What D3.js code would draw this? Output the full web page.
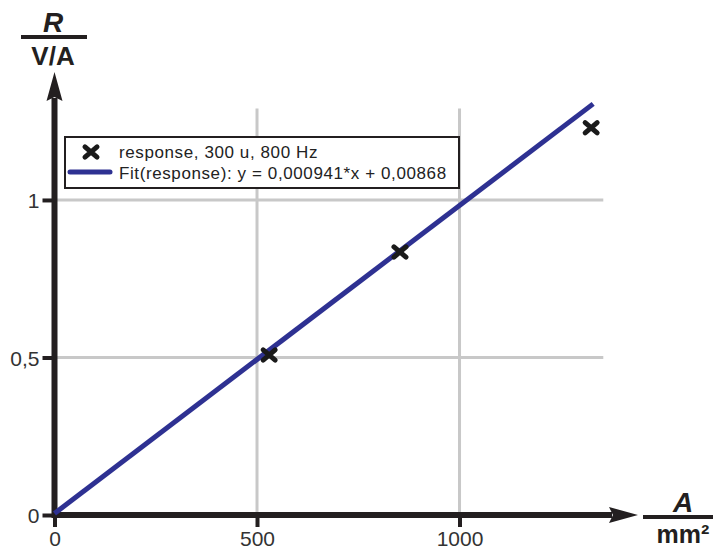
<!DOCTYPE html>
<html lang="en">
<head>
  <meta charset="UTF-8">
  <title>R over A</title>
  <script src="https://d3js.org/d3.v7.min.js"></script>
  <style>
    body { margin: 0; background: #fff; }
    svg { display: block; }
    .tick-label {
      font-family: "Liberation Sans Narrow", "Arial Narrow", "Liberation Sans", sans-serif;
      font-stretch: condensed;
      font-size: 21px;
      fill: #333;
    }
    .unit {
      font-family: "Liberation Sans", Arial, sans-serif;
      font-weight: bold;
      fill: #231f20;
    }
    .legend-text {
      font-family: "Liberation Sans", Arial, sans-serif;
      font-size: 17px;
      letter-spacing: 0.6px;
      fill: #222;
    }
  </style>
</head>
<body>
  <script>
    // Messwerte
    const pointX = [530, 853, 1325];
    const pointY = [0.508, 0.835, 1.229];

    // Ausgleichsgerade (so wie gezeichnet)
    const fitX = [0, 1330];
    const fitY = [0.005, 1.305];

    const xTicks = [0, 500, 1000];
    const yTicks = [0, 0.5, 1];
    const xGrid = [500, 1000];
    const yGrid = [0.5, 1];

    const legendLabels = ['response, 300 u, 800 Hz', 'Fit(response): y = 0,000941*x + 0,00868'];

    const width = 713, height = 550;
    const axisColor = '#231f20';
    const lineColor = '#2e3192';

    const x = d3.scaleLinear().domain([0, 1355]).range([54.5, 603.3]);
    const y = d3.scaleLinear().domain([0, 1.29]).range([515, 108.6]);

    const svg = d3.select('body').append('svg')
      .attr('width', width)
      .attr('height', height);

    // Gitter
    svg.append('g').selectAll('line').data(xGrid).join('line')
      .attr('x1', d => x(d)).attr('x2', d => x(d))
      .attr('y1', y(0)).attr('y2', y.range()[1])
      .attr('stroke', '#c8c8c8').attr('stroke-width', 3);

    svg.append('g').selectAll('line').data(yGrid).join('line')
      .attr('x1', x(0)).attr('x2', x.range()[1])
      .attr('y1', d => y(d)).attr('y2', d => y(d))
      .attr('stroke', '#c8c8c8').attr('stroke-width', 3);

    // Achsen mit d3-axis (nur Ticks + Beschriftung)
    const fmt = d => d3.format('~g')(d).replace('.', ',');

    const xAxis = svg.append('g')
      .attr('transform', `translate(0,${y(0)})`)
      .call(d3.axisBottom(x).tickValues(xTicks).tickFormat(fmt).tickSize(12).tickPadding(4));
    xAxis.select('.domain').remove();
    xAxis.selectAll('.tick line').attr('stroke', axisColor).attr('stroke-width', 4);
    xAxis.selectAll('.tick text').attr('class', 'tick-label').attr('fill', null);
    xAxis.attr('font-size', null).attr('font-family', null);

    const yAxis = svg.append('g')
      .attr('transform', `translate(${x(0)},0)`)
      .call(d3.axisLeft(y).tickValues(yTicks).tickFormat(fmt).tickSize(12).tickPadding(3));
    yAxis.select('.domain').remove();
    yAxis.selectAll('.tick line').attr('stroke', axisColor).attr('stroke-width', 4);
    yAxis.selectAll('.tick text').attr('class', 'tick-label').attr('fill', null).attr('dy', '0.36em');
    yAxis.attr('font-size', null).attr('font-family', null);

    // Achsenlinien mit Pfeilen
    svg.append('line')
      .attr('x1', x(0)).attr('x2', 612)
      .attr('y1', y(0)).attr('y2', y(0))
      .attr('stroke', axisColor).attr('stroke-width', 6);
    svg.append('path')
      .attr('d', `M638,${y(0)} L609,${y(0) - 8} L613,${y(0)} L609,${y(0) + 8} Z`)
      .attr('fill', axisColor);

    svg.append('line')
      .attr('x1', x(0)).attr('x2', x(0))
      .attr('y1', y(0) + 3).attr('y2', 98)
      .attr('stroke', axisColor).attr('stroke-width', 6);
    svg.append('path')
      .attr('d', `M${x(0)},72 L${x(0) - 8},101 L${x(0)},97 L${x(0) + 8},101 Z`)
      .attr('fill', axisColor);

    // Ausgleichsgerade
    const fitData = fitX.map((d, i) => [d, fitY[i]]);
    svg.append('path')
      .datum(fitData)
      .attr('d', d3.line().x(d => x(d[0])).y(d => y(d[1])))
      .attr('fill', 'none')
      .attr('stroke', lineColor)
      .attr('stroke-width', 5);

    // Messpunkte als Kreuze
    const cross = 6;
    const crossPath = (cx, cy) =>
      `M${cx - cross},${cy - cross * 0.85}L${cx + cross},${cy + cross * 0.85}M${cx - cross},${cy + cross * 0.85}L${cx + cross},${cy - cross * 0.85}`;

    svg.append('g').selectAll('path').data(pointX.map((d, i) => [d, pointY[i]])).join('path')
      .attr('d', d => crossPath(x(d[0]), y(d[1])))
      .attr('stroke', '#1a1a1a')
      .attr('stroke-width', 5)
      .attr('stroke-linecap', 'round');

    // Legende
    const legend = svg.append('g');
    legend.append('rect')
      .attr('x', 65).attr('y', 137)
      .attr('width', 394).attr('height', 51)
      .attr('fill', '#fff')
      .attr('stroke', axisColor)
      .attr('stroke-width', 2);
    legend.append('path')
      .attr('d', crossPath(91, 152))
      .attr('stroke', '#1a1a1a')
      .attr('stroke-width', 5)
      .attr('stroke-linecap', 'round');
    legend.append('line')
      .attr('x1', 70).attr('x2', 110)
      .attr('y1', 172).attr('y2', 172)
      .attr('stroke', lineColor)
      .attr('stroke-width', 5)
      .attr('stroke-linecap', 'round');
    legend.selectAll('text').data(legendLabels).join('text')
      .attr('class', 'legend-text')
      .attr('x', 119)
      .attr('y', (d, i) => 158 + i * 21)
      .text(d => d);

    // Größen / Einheiten
    const yLab = svg.append('g');
    yLab.append('text').attr('class', 'unit')
      .attr('x', 53).attr('y', 32)
      .attr('text-anchor', 'middle')
      .attr('font-size', 28)
      .attr('font-style', 'italic')
      .text('R');
    yLab.append('line')
      .attr('x1', 21).attr('x2', 87)
      .attr('y1', 37).attr('y2', 37)
      .attr('stroke', axisColor).attr('stroke-width', 4);
    yLab.append('text').attr('class', 'unit')
      .attr('x', 53).attr('y', 65)
      .attr('text-anchor', 'middle')
      .attr('font-size', 26)
      .text('V/A');

    const xLab = svg.append('g');
    xLab.append('text').attr('class', 'unit')
      .attr('x', 683).attr('y', 512)
      .attr('text-anchor', 'middle')
      .attr('font-size', 28)
      .attr('font-style', 'italic')
      .text('A');
    xLab.append('line')
      .attr('x1', 643).attr('x2', 713)
      .attr('y1', 517).attr('y2', 517)
      .attr('stroke', axisColor).attr('stroke-width', 4);
    xLab.append('text').attr('class', 'unit')
      .attr('x', 683).attr('y', 543)
      .attr('text-anchor', 'middle')
      .attr('font-size', 25)
      .text('mm²');
  </script>
</body>
</html>
